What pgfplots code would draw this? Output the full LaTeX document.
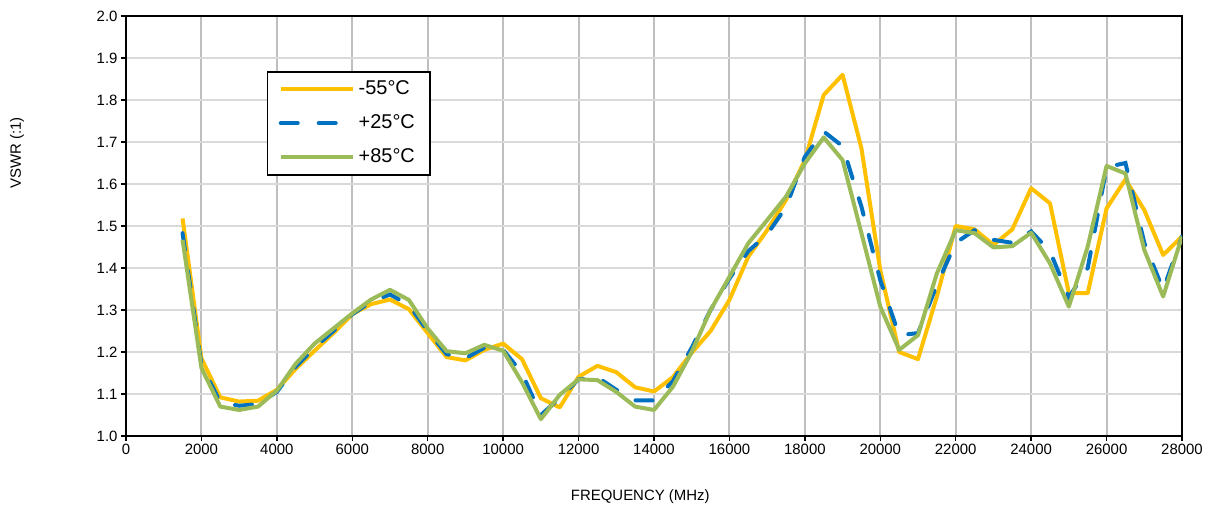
\documentclass[border=0pt]{standalone}
\usepackage{pgfplots}
\pgfplotsset{compat=1.18}
\usepackage{pgfplotstable}
\usepackage{fontspec}
\setmainfont{Liberation Sans}
\definecolor{cY}{HTML}{FFC000}
\definecolor{cB}{HTML}{0070C0}
\definecolor{cG}{HTML}{9BBB59}
\definecolor{gridV}{HTML}{BFBFBF}
\definecolor{gridH}{HTML}{D9D9D9}

\pgfplotstableread{
f y b g
1500 1.518 1.483 1.467
2000 1.185 1.170 1.162
2500 1.092 1.080 1.070
3000 1.082 1.072 1.062
3500 1.084 1.076 1.070
4000 1.110 1.105 1.108
4500 1.160 1.165 1.172
5000 1.203 1.210 1.220
5500 1.245 1.250 1.256
6000 1.290 1.290 1.292
6500 1.314 1.320 1.325
7000 1.325 1.337 1.348
7500 1.302 1.312 1.324
8000 1.245 1.250 1.256
8500 1.188 1.195 1.202
9000 1.180 1.185 1.197
9500 1.205 1.210 1.217
10000 1.220 1.205 1.203
10500 1.183 1.150 1.128
11000 1.090 1.050 1.040
11500 1.068 1.090 1.098
12000 1.141 1.135 1.135
12500 1.167 1.140 1.133
13000 1.152 1.110 1.105
13500 1.116 1.085 1.070
14000 1.106 1.085 1.062
14500 1.140 1.130 1.117
15000 1.198 1.210 1.200
15500 1.250 1.300 1.300
16000 1.324 1.375 1.379
16500 1.427 1.440 1.459
17000 1.490 1.480 1.514
17500 1.562 1.545 1.570
18000 1.657 1.665 1.649
18500 1.812 1.725 1.711
19000 1.860 1.690 1.657
19500 1.685 1.546 1.483
20000 1.395 1.371 1.308
20500 1.200 1.240 1.205
21000 1.183 1.245 1.240
21500 1.332 1.360 1.387
22000 1.500 1.460 1.490
22500 1.492 1.490 1.483
23000 1.455 1.467 1.449
23500 1.492 1.460 1.452
24000 1.590 1.487 1.484
24500 1.554 1.440 1.411
25000 1.340 1.330 1.308
25500 1.340 1.400 1.451
26000 1.542 1.640 1.643
26500 1.611 1.650 1.625
27000 1.538 1.460 1.443
27500 1.431 1.348 1.332
28000 1.475 1.475 1.475
}\vswr

\begin{document}
\begin{tikzpicture}
\path[use as bounding box] (-126bp,-74bp) rectangle (1083bp,436bp);
\begin{axis}[
  at={(0,0)}, anchor=south west,
  scale only axis, width=1056bp, height=420bp,
  xmin=0, xmax=28000, ymin=1, ymax=2,
  xtick={0,2000,...,28000},
  scaled x ticks=false,
  ytick={1.0,1.1,1.2,1.3,1.4,1.5,1.6,1.7,1.8,1.9,2.0},
  /pgf/number format/assume math mode=true,
  x tick label style={/pgf/number format/1000 sep={}, font=\fontsize{15}{17}\selectfont},
  y tick label style={/pgf/number format/fixed, /pgf/number format/fixed zerofill, /pgf/number format/precision=1, font=\fontsize{15}{17}\selectfont},
  tick align=outside, major tick length=5bp,
  xtick pos=bottom, ytick pos=left,
  tick style={black, line width=1.5bp},
  axis line style={black, line width=2.5bp},
  grid=major,
  x grid style={gridV, line width=2bp},
  y grid style={gridH, line width=1.5bp},
  xlabel={FREQUENCY (MHz)},
  ylabel={VSWR (:1)},
  xlabel style={at={(axis description cs:0.487,-0.145)}, anchor=center, font=\fontsize{15}{17}\selectfont},
  ylabel style={at={(axis description cs:-0.1032,0.674)}, anchor=center, font=\fontsize{15}{17}\selectfont},
  legend style={at={(axis description cs:0.1335,0.869)}, anchor=north west,
    draw=black, line width=1.5bp, fill=white,
    font=\fontsize{20}{23}\selectfont, row sep=4bp,
    inner xsep=11bp, inner ysep=2.5bp,
    nodes={inner xsep=4bp, inner ysep=6bp, text height=14bp, text depth=4bp}},
  legend cell align=left,
  legend image code/.code={\draw[#1] (0bp,0bp) -- (72bp,0bp);},
]
\addplot[cY, line width=4bp, line join=round] table[x=f, y=y] {\vswr};
\addlegendentry{-55°C}
\addplot[cB, line width=4bp, line cap=round, dash pattern=on 17bp off 21bp] table[x=f, y=b] {\vswr};
\addlegendentry{+25°C}
\addplot[cG, line width=4bp, line join=round] table[x=f, y=g] {\vswr};
\addlegendentry{+85°C}
\end{axis}
\end{tikzpicture}
\end{document}
